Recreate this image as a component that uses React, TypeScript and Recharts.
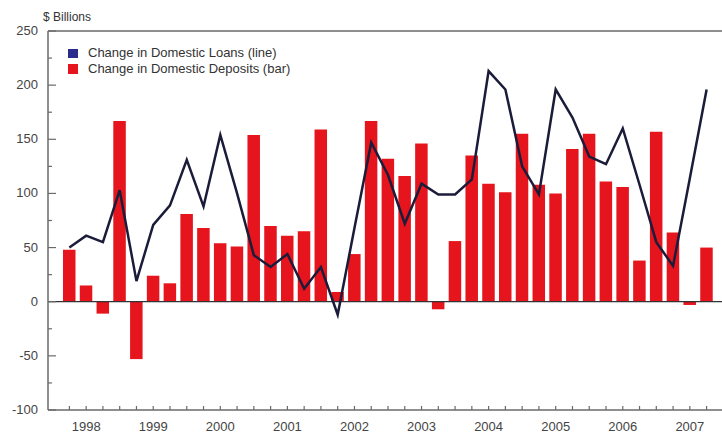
import { ComposedChart, Bar, Line, XAxis, YAxis, ReferenceLine } from 'recharts'

// quarterly changes, $ billions
const quarters = [
  '1998Q1', '1998Q2', '1998Q3', '1998Q4',
  '1999Q1', '1999Q2', '1999Q3', '1999Q4',
  '2000Q1', '2000Q2', '2000Q3', '2000Q4',
  '2001Q1', '2001Q2', '2001Q3', '2001Q4',
  '2002Q1', '2002Q2', '2002Q3', '2002Q4',
  '2003Q1', '2003Q2', '2003Q3', '2003Q4',
  '2004Q1', '2004Q2', '2004Q3', '2004Q4',
  '2005Q1', '2005Q2', '2005Q3', '2005Q4',
  '2006Q1', '2006Q2', '2006Q3', '2006Q4',
  '2007Q1', '2007Q2', '2007Q3',
]

const deposits = [
  48, 15, -11, 167,
  -53, 24, 17, 81,
  68, 54, 51, 154,
  70, 61, 65, 159,
  9, 44, 167, 132,
  116, 146, -7, 56,
  135, 109, 101, 155,
  108, 100, 141, 155,
  111, 106, 38, 157,
  64, -3, 50,
]

const loans = [
  50, 61, 55, 103,
  19, 71, 89, 131,
  88, 154, 100, 43,
  32, 44, 12, 32,
  -12, 68, 147, 117,
  72, 109, 99, 99,
  113, 213, 196, 125,
  99, 196, 170, 134,
  127, 160, 108, 55,
  33, 114, 196,
]

const yTicks = [-100, -75, -50, -25, 0, 25, 50, 75, 100, 125, 150, 175, 200, 225, 250]

const data = quarters.map((q, i) => ({ q, deposits: deposits[i], loans: loans[i] }))

const BAR_RED = '#e5141d'
const LINE_NAVY = '#1b1b3a'
const AXIS = '#6a6a6a'
const TEXT = '#444'
const FONT = '"Liberation Sans", Arial, sans-serif'

function YTick(props: any) {
  const { x, y, payload } = props
  const v = payload.value as number
  const major = v % 50 === 0
  return (
    <g>
      <line x1={x} x2={x + (major ? 8 : 4)} y1={y} y2={y} stroke={AXIS} strokeWidth={1.2} />
      {major && (
        <text x={x - 10} y={y} dy={4} textAnchor="end" fontSize={13} fill={TEXT} fontFamily={FONT}>
          {v}
        </text>
      )}
    </g>
  )
}

function XTick(props: any) {
  const { x, y, payload } = props
  const q = payload.value as string
  return (
    <g>
      <line x1={x} x2={x} y1={y} y2={y - 4} stroke={AXIS} strokeWidth={1.2} />
      {q.endsWith('Q2') && (
        <text x={x} y={y + 21} textAnchor="middle" fontSize={13} fill={TEXT} fontFamily={FONT}>
          {q.slice(0, 4)}
        </text>
      )}
    </g>
  )
}

export default function App() {
  return (
    <div style={{ position: 'absolute', left: 0, top: 0, width: 722, height: 437, background: '#fff', fontFamily: FONT }}>
      <div style={{ position: 'absolute', left: 43, top: 10, fontSize: 12, color: '#333' }}>$ Billions</div>
      <ComposedChart
        width={722}
        height={437}
        data={data}
        margin={{ top: 31, right: 0, bottom: 0, left: 0 }}
      >
        <XAxis
          dataKey="q"
          interval={0}
          height={27}
          tickSize={0}
          tickMargin={0}
          tick={<XTick />}
          axisLine={{ stroke: AXIS, strokeWidth: 1.5 }}
          padding={{ left: 13, right: 7 }}
        />
        <YAxis
          domain={[-100, 250]}
          ticks={yTicks}
          width={48}
          tickSize={0}
          tickMargin={0}
          tick={<YTick />}
          axisLine={{ stroke: AXIS, strokeWidth: 1.5 }}
          allowDataOverflow
        />
        <ReferenceLine y={250} stroke={AXIS} strokeWidth={1.5} />
        <Bar dataKey="deposits" fill={BAR_RED} barSize={12.5} isAnimationActive={false} />
        <ReferenceLine y={0} stroke="#333" strokeWidth={1.3} />
        <Line
          dataKey="loans"
          type="linear"
          stroke={LINE_NAVY}
          strokeWidth={2.5}
          dot={false}
          isAnimationActive={false}
        />
      </ComposedChart>
      <div style={{ position: 'absolute', left: 68, top: 45, fontSize: 13, color: '#333', lineHeight: '16px' }}>
        <div style={{ display: 'flex', alignItems: 'center' }}>
          <span style={{ display: 'inline-block', width: 10, height: 9, background: '#2b2b8c', marginRight: 10 }} />
          Change in Domestic Loans (line)
        </div>
        <div style={{ display: 'flex', alignItems: 'center' }}>
          <span style={{ display: 'inline-block', width: 10, height: 10, background: BAR_RED, marginRight: 10 }} />
          Change in Domestic Deposits (bar)
        </div>
      </div>
    </div>
  )
}
